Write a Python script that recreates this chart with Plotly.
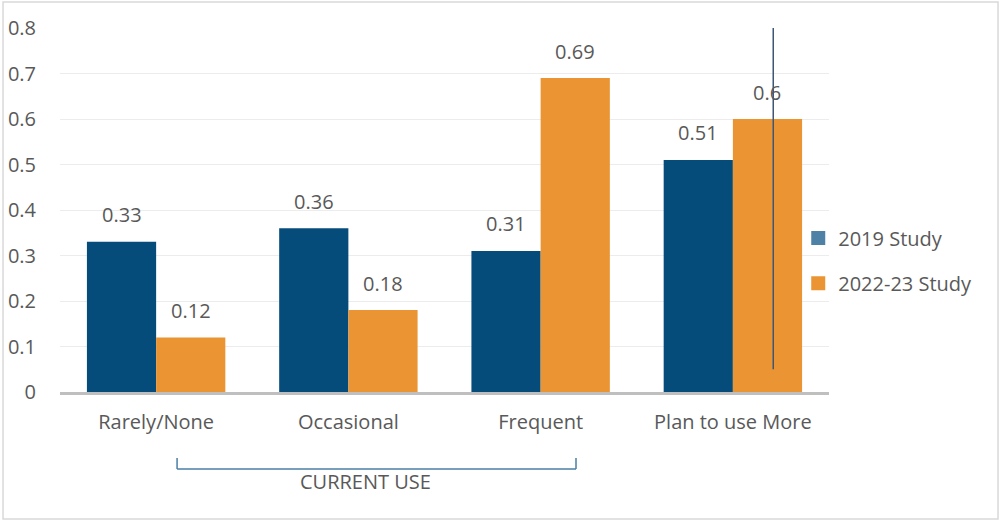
import plotly.graph_objects as go

categories = ["Rarely/None", "Occasional", "Frequent", "Plan to use More"]
study_2019 = [0.33, 0.36, 0.31, 0.51]
study_2022 = [0.12, 0.18, 0.69, 0.60]
series_names = ["2019 Study", "2022-23 Study"]
y_ticks = [0, 0.1, 0.2, 0.3, 0.4, 0.5, 0.6, 0.7, 0.8]
bracket_label = "CURRENT USE"

BLUE = "#054c7b"
ORANGE = "#ea9434"
LEGEND_BLUE = "#4e81a6"
TEXT = "#595959"
FONT = "Open Sans"
FS = 20

fig = go.Figure()

for name, vals, color in [(series_names[0], study_2019, BLUE),
                          (series_names[1], study_2022, ORANGE)]:
    fig.add_trace(go.Bar(
        x=categories, y=vals, name=name, marker=dict(color=color, line=dict(width=0)),
        showlegend=False, hoverinfo="x+y",
    ))

# legend swatches (square markers) in their own legend boxes
for name, color, leg in [(series_names[0], LEGEND_BLUE, "legend"),
                         (series_names[1], ORANGE, "legend2")]:
    fig.add_trace(go.Scatter(
        x=[None], y=[None], mode="markers", name=name, legend=leg,
        marker=dict(symbol="square", size=14, color=color),
    ))

# value labels above each bar
bar_half = 34.6
for vals, shift in [(study_2019, -bar_half), (study_2022, bar_half)]:
    for cat, v in zip(categories, vals):
        fig.add_annotation(
            x=cat, y=v, text=f"{v:g}", showarrow=False, xshift=shift, yshift=27,
            font=dict(family=FONT, size=FS, color=TEXT),
        )

# vertical marker line across the last group
fig.add_shape(type="line", xref="x", yref="y", x0=3.21, x1=3.21, y0=0.05, y1=0.807,
              line=dict(color="#3f5677", width=1.5))

# bracket grouping the current-use categories
bc = "#4a7ea5"
fig.add_shape(type="line", xref="x", yref="paper", x0=0.109, x1=2.184, y0=-0.2115, y1=-0.2115,
              line=dict(color=bc, width=1.5))
fig.add_shape(type="line", xref="x", yref="paper", x0=0.109, x1=0.109, y0=-0.181, y1=-0.2115,
              line=dict(color=bc, width=1.5))
fig.add_shape(type="line", xref="x", yref="paper", x0=2.184, x1=2.184, y0=-0.181, y1=-0.2115,
              line=dict(color=bc, width=1.5))
fig.add_annotation(x=1.09, y=-0.288, xref="x", yref="paper", text=bracket_label,
                   showarrow=False, font=dict(family=FONT, size=FS, color=TEXT))

# outer chart border
fig.add_shape(type="rect", xref="paper", yref="paper", x0=-0.0741, x1=1.2198, y0=-0.349, y1=1.0714,
              line=dict(color="#d9d9d9", width=1.5), fillcolor="rgba(0,0,0,0)", layer="below")

fig.update_layout(
    width=1001, height=521,
    margin=dict(l=60, r=172, t=28, b=129),
    paper_bgcolor="white", plot_bgcolor="white",
    barmode="group", bargap=0.28, bargroupgap=0,
    font=dict(family=FONT, size=FS, color=TEXT),
    legend=dict(x=0.96, y=0.423, xanchor="left", yanchor="middle",
                font=dict(family=FONT, size=FS, color=TEXT), bgcolor="rgba(0,0,0,0)"),
    legend2=dict(x=0.96, y=0.299, xanchor="left", yanchor="middle",
                 font=dict(family=FONT, size=FS, color=TEXT), bgcolor="rgba(0,0,0,0)"),
    xaxis=dict(showline=True, linecolor="#bfbfbf", linewidth=3, ticks="outside", ticklen=0,
               ticklabelstandoff=10, tickfont=dict(family=FONT, size=FS, color=TEXT),
               showgrid=False, zeroline=False, automargin=False),
    yaxis=dict(range=[0, 0.8], tickvals=y_ticks, ticktext=[f"{t:g}" for t in y_ticks],
               showgrid=True, gridcolor="#ececec", gridwidth=1, zeroline=False,
               ticks="outside", ticklen=0, ticklabelstandoff=19, automargin=False,
               tickfont=dict(family=FONT, size=FS, color=TEXT)),
)

fig.write_html("out.html")
